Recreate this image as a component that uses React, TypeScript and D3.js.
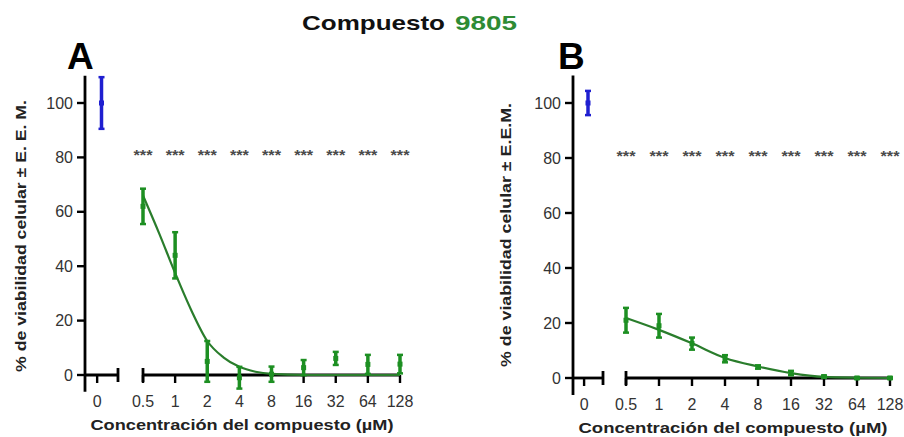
import React from "react";
import * as d3 from "d3";

// concentraciones ensayadas (µM) y etiquetas del eje
const concentrations = [0.5, 1, 2, 4, 8, 16, 32, 64, 128];
const concLabels = ["0.5", "1", "2", "4", "8", "16", "32", "64", "128"];
const yTicks = [0, 20, 40, 60, 80, 100];
const stars = ["***", "***", "***", "***", "***", "***", "***", "***", "***"];

// panel A
const meansA = [62, 44, 5, -1, 0.3, 2.7, 6.1, 3.9, 4];
const semA = [6.5, 8.5, 7.5, 4, 2.8, 2.8, 2.4, 3.5, 3.4];
const controlA = [100];
const controlSemA = [9.5];
const fitConcA = [0.5, 0.71, 1, 1.41, 2, 2.83, 4, 5.66, 8, 16, 32, 64, 128];
const fitA = [66, 52, 37.5, 24, 12.5, 6.5, 3, 1.2, 0.4, 0, 0, 0, 0];

// panel B
const meansB = [21, 19, 12.5, 7, 4, 1.8, 0.5, 0, 0];
const semB = [4.5, 4.3, 2.2, 1.3, 0.6, 0.8, 0.4, 0.3, 0.3];
const controlB = [100];
const controlSemB = [4.4];
const fitConcB = [0.5, 1, 2, 4, 8, 16, 32, 64, 128];
const fitB = [21.8, 17.5, 12.6, 7.3, 4.2, 1.8, 0.4, 0.1, 0];

const FONT = "'Liberation Sans', Arial, Helvetica, sans-serif";
const GREEN_BAR = "#1d8f22";
const GREEN_LINE = "#2a7d2c";
const BLUE = "#1f1fd0";

type PanelProps = {
  letter: string;
  yTitle: string;
  yTitleLen: number;
  means: number[];
  sem: number[];
  control: number[];
  controlSem: number[];
  fitConc: number[];
  fit: number[];
  L: {
    axisX: number; zeroY: number; topY: number; ctrlEnd: number;
    logStart: number; logEnd: number; letterX: number;
    yTitleX: number; yTitleY: number; xTitleX: number; xTitleLen: number;
  };
};

const Panel = ({ letter, yTitle, yTitleLen, means, sem, control, controlSem, fitConc, fit, L }: PanelProps) => {
  const y = d3.scaleLinear().domain([0, 100]).range([L.zeroY, L.topY]);
  const x = d3.scaleLog().base(2).domain([0.5, 128]).range([L.logStart, L.logEnd]);
  const xc = d3.scaleLinear().domain([-1, 1]).range([L.axisX + 2, L.ctrlEnd - 2]);

  const line = d3
    .line<number>()
    .x((_, i) => x(fitConc[i]))
    .y((d) => y(d))
    .curve(d3.curveMonotoneX);

  const errBar = (cx: number, m: number, s: number, color: string, key: string | number) => (
    <g key={key} stroke={color}>
      <line x1={cx} x2={cx} y1={y(m - s)} y2={y(m + s)} strokeWidth={3.5} />
      <line x1={cx - 3} x2={cx + 3} y1={y(m - s)} y2={y(m - s)} strokeWidth={2.5} />
      <line x1={cx - 3} x2={cx + 3} y1={y(m + s)} y2={y(m + s)} strokeWidth={2.5} />
      <rect x={cx - 2.5} y={y(m) - 2.5} width={5} height={5} fill={color} stroke="none" />
    </g>
  );

  const tickLen = 8;
  const zy = y(0);
  const ctrlTick = xc(-0.3);

  return (
    <g fontFamily={FONT}>
      {/* letra del panel */}
      <text x={L.letterX} y={69} fontSize={37} fontWeight="bold" fill="#000">{letter}</text>

      {/* eje Y */}
      <line x1={L.axisX} x2={L.axisX} y1={y(110)} y2={y(-6.2)} stroke="#000" strokeWidth={2.8} />
      {yTicks.map((t) => (
        <g key={t}>
          <line x1={L.axisX - tickLen} x2={L.axisX} y1={y(t)} y2={y(t)} stroke="#000" strokeWidth={2.4} />
          <text x={L.axisX - 12} y={y(t) + 5.5} fontSize={16} textAnchor="end" fill="#333">{t}</text>
        </g>
      ))}
      <text
        transform={`translate(${L.yTitleX},${L.yTitleY}) rotate(-90)`}
        fontSize={15}
        fontWeight="bold"
        textAnchor="middle"
        fill="#222"
        textLength={yTitleLen}
        lengthAdjust="spacingAndGlyphs"
      >
        {yTitle}
      </text>

      {/* eje X: control */}
      <line x1={L.axisX} x2={L.ctrlEnd} y1={zy} y2={zy} stroke="#000" strokeWidth={2.8} />
      <line x1={L.ctrlEnd} x2={L.ctrlEnd} y1={zy - 7} y2={zy + 7} stroke="#000" strokeWidth={2.8} />
      <line x1={ctrlTick} x2={ctrlTick} y1={zy} y2={zy + tickLen} stroke="#000" strokeWidth={2.4} />
      <text x={ctrlTick} y={zy + 32} fontSize={16} textAnchor="middle" fill="#333">0</text>

      {/* eje X: concentraciones */}
      <line x1={x(0.5)} x2={x(128)} y1={zy} y2={zy} stroke="#000" strokeWidth={2.8} />
      <line x1={x(0.5)} x2={x(0.5)} y1={zy - 7} y2={zy + 7} stroke="#000" strokeWidth={2.8} />
      {concentrations.map((c, i) => (
        <g key={c}>
          <line x1={x(c)} x2={x(c)} y1={zy} y2={zy + tickLen} stroke="#000" strokeWidth={2.4} />
          <text x={x(c)} y={zy + 32} fontSize={16} textAnchor="middle" fill="#333">{concLabels[i]}</text>
        </g>
      ))}
      <text
        x={L.xTitleX}
        y={zy + 55}
        fontSize={15}
        fontWeight="bold"
        textAnchor="middle"
        fill="#222"
        textLength={L.xTitleLen}
        lengthAdjust="spacingAndGlyphs"
      >
        Concentración del compuesto (µM)
      </text>

      {/* significancia */}
      {concentrations.map((c, i) => (
        <text
          key={c}
          x={x(c)}
          y={y(82) + 8.5}
          fontSize={14}
          fontWeight="bold"
          textAnchor="middle"
          fill="#4a4a4a"
          textLength={19}
          lengthAdjust="spacingAndGlyphs"
        >
          {stars[i]}
        </text>
      ))}

      {/* control */}
      {control.map((m, i) => errBar(xc(0), m, controlSem[i], BLUE, "c" + i))}

      {/* ajuste */}
      <path d={line(fit) || ""} fill="none" stroke={GREEN_LINE} strokeWidth={2.2} />

      {/* datos */}
      {concentrations.map((c, i) => errBar(x(c), means[i], sem[i], GREEN_BAR, i))}
    </g>
  );
};

const App = () => {
  return (
    <svg width={904} height={437} style={{ position: "absolute", left: 0, top: 0, background: "#fff" }}>
      <text x={302} y={30} fontFamily={FONT} fontSize={21} fontWeight="bold" fill="#111" textLength={143} lengthAdjust="spacingAndGlyphs">
        Compuesto
      </text>
      <text x={455} y={30} fontFamily={FONT} fontSize={21} fontWeight="bold" fill="#2e8b34" textLength={62} lengthAdjust="spacingAndGlyphs">
        9805
      </text>

      <Panel
        letter="A"
        yTitle="% de viabilidad celular ± E. E. M."
        yTitleLen={272}
        means={meansA}
        sem={semA}
        control={controlA}
        controlSem={controlSemA}
        fitConc={fitConcA}
        fit={fitA}
        L={{
          axisX: 85, zeroY: 375, topY: 103, ctrlEnd: 118,
          logStart: 143, logEnd: 400, letterX: 67,
          yTitleX: 26, yTitleY: 236, xTitleX: 242, xTitleLen: 303,
        }}
      />
      <Panel
        letter="B"
        yTitle="% de viabilidad celular ± E.E.M."
        yTitleLen={264}
        means={meansB}
        sem={semB}
        control={controlB}
        controlSem={controlSemB}
        fitConc={fitConcB}
        fit={fitB}
        L={{
          axisX: 573, zeroY: 378, topY: 103, ctrlEnd: 603,
          logStart: 626, logEnd: 890, letterX: 558,
          yTitleX: 511, yTitleY: 235, xTitleX: 733, xTitleLen: 309,
        }}
      />
    </svg>
  );
};

export default App;
